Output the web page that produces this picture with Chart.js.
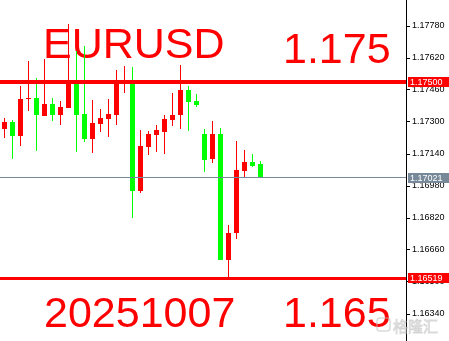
<!DOCTYPE html>
<html><head><meta charset="utf-8">
<script src="https://cdn.jsdelivr.net/npm/chart.js@4.4.1/dist/chart.umd.min.js"></script>
<style>html,body{margin:0;padding:0;background:#fff;overflow:hidden}
#wrap{position:relative;width:449px;height:341px}</style>
</head><body><div id="wrap"><canvas id="c" width="449" height="341"></canvas></div>
<script>
// ---- data ----
const candles = [0,1,2,3,4,5,6,7,8,9,10,11,12,13,14,15,16,17,18,19,20,21,22,23,24,25,26,27,28,29,30,31,32];
const opens  = [1.17265,1.1730,1.1723,1.17415,1.1742,1.1733,1.1739,1.17335,1.1737,1.17495,1.1734,1.17215,1.1729,1.17315,1.17335,1.17495,1.17495,1.16955,1.17175,1.17235,1.1725,1.1731,1.17335,1.1746,1.17405,1.1724,1.17115,1.1724,1.1661,1.16745,1.17055,1.171,1.1709];
const highs  = [1.1732,1.1731,1.1748,1.17605,1.1752,1.17615,1.1742,1.17405,1.1779,1.17655,1.1768,1.1741,1.17365,1.17415,1.1756,1.1758,1.17575,1.1726,1.17255,1.17285,1.17335,1.17445,1.17585,1.1748,1.1744,1.17265,1.17305,1.1727,1.16785,1.17205,1.1716,1.1714,1.17105];
const lows   = [1.1722,1.17115,1.1718,1.17355,1.17155,1.1733,1.17305,1.17285,1.1737,1.1715,1.172,1.17145,1.1725,1.17225,1.17285,1.17445,1.1682,1.16945,1.17135,1.1715,1.1714,1.1728,1.17265,1.17255,1.17375,1.1705,1.17095,1.1661,1.1652,1.16715,1.1702,1.17075,1.17021];
const closes = [1.1730,1.1723,1.17415,1.1742,1.17335,1.1739,1.17335,1.17375,1.175,1.17335,1.17215,1.17295,1.1732,1.1734,1.17495,1.175,1.16955,1.1718,1.1724,1.1726,1.17315,1.17335,1.1746,1.174,1.17385,1.1711,1.1724,1.1661,1.16745,1.1706,1.171,1.1708,1.17021];
const yTicks = [1.17780,1.17620,1.17460,1.17300,1.17140,1.16980,1.16820,1.16660,1.16500,1.16340];
const levels = [1.17500,1.16519];
const lastPrice = 1.17021;
const titleText = 'EURUSD', dateText = '20251007', upperText = '1.175', lowerText = '1.165';
const watermarkText = '格隆汇';

// ---- styles ----
const UP = '#ff0000', DOWN = '#00ff00', LEVEL = '#ff0000', LAST = '#778899';
const colors = candles.map(i => closes[i] >= opens[i] ? UP : DOWN);
const AREA_W = 406, SLOT = 8;
const xMin = -4.5 / SLOT;

const overlay = {
  id: 'overlay',
  beforeDatasetsDraw(chart) {
    const ctx = chart.ctx;
    ctx.save();
    ctx.fillStyle = '#ff0000';
    ctx.font = '43px "Liberation Sans", Arial, sans-serif';
    ctx.textBaseline = 'alphabetic';
    ctx.textAlign = 'left';
    ctx.fillText(titleText, 43, 58);
    ctx.fillText(upperText, 283, 63);
    ctx.fillText(dateText, 44, 327);
    ctx.fillText(lowerText, 283, 327);
    ctx.restore();
  },
  afterDatasetsDraw(chart) {
    const ctx = chart.ctx, y = chart.scales.y;
    ctx.save();
    const lp = Math.floor(y.getPixelForValue(lastPrice));
    ctx.fillStyle = LAST;
    ctx.fillRect(0, lp, AREA_W, 1);
    const widths = [4, 3];
    levels.forEach((v, k) => {
      const p = Math.round(y.getPixelForValue(v));
      ctx.fillStyle = LEVEL;
      ctx.fillRect(0, p - (k === 0 ? 2 : 1), AREA_W, widths[k]);
    });
    ctx.restore();
  },
  afterDraw(chart) {
    const ctx = chart.ctx, y = chart.scales.y;
    ctx.save();
    ctx.font = '9px "Liberation Sans", Arial, sans-serif';
    ctx.textBaseline = 'middle';
    const box = (v, col) => {
      const p = y.getPixelForValue(v);
      ctx.fillStyle = col;
      ctx.fillRect(408, Math.round(p) - 5, 41, 10);
      ctx.fillStyle = '#fff';
      ctx.fillText(v.toFixed(5), 410, Math.round(p) + 0.5);
    };
    box(levels[0], LEVEL);
    box(lastPrice, LAST);
    box(levels[1], LEVEL);
    // watermark
    ctx.globalAlpha = 0.55;
    ctx.strokeStyle = '#bbbbbb';
    ctx.lineWidth = 1.5;
    ctx.beginPath();
    ctx.roundRect(377, 318, 13, 13, 3);
    ctx.stroke();
    ctx.font = '15px "Noto Sans CJK SC", sans-serif';
    ctx.textBaseline = 'alphabetic';
    ctx.fillStyle = '#e2e2e2';
    ctx.fillText(watermarkText, 393, 332);
    ctx.lineWidth = 0.8;
    ctx.strokeText(watermarkText, 393, 332);
    ctx.restore();
  }
};

new Chart(document.getElementById('c'), {
  type: 'bar',
  data: {
    datasets: [
      {
        label: 'body',
        data: candles.map(i => ({ x: i, y: [opens[i], closes[i]] })),
        backgroundColor: colors,
        barThickness: 5,
        grouped: false,
        inflateAmount: 0,
        borderWidth: 0
      },
      {
        label: 'wick',
        data: candles.map(i => ({ x: i, y: [lows[i], highs[i]] })),
        backgroundColor: colors,
        barThickness: 1,
        grouped: false,
        inflateAmount: 0,
        borderWidth: 0
      }
    ]
  },
  options: {
    responsive: false,
    animation: false,
    devicePixelRatio: 1,
    layout: { padding: 0 },
    plugins: { legend: { display: false }, tooltip: { enabled: false } },
    events: [],
    scales: {
      x: {
        type: 'linear', display: false, offset: false,
        min: xMin, max: xMin + AREA_W / SLOT,
        grid: { offset: false }
      },
      y: {
        position: 'right',
        min: 1.16205, max: 1.1791,
        afterBuildTicks: s => { s.ticks = yTicks.map(v => ({ value: v })); },
        afterFit: s => { s.width = 43; s.paddingTop = 0; s.paddingBottom = 0; },
        grid: { drawOnChartArea: false, drawTicks: true, tickLength: 4, color: '#000' },
        border: { display: true, color: '#000', width: 1 },
        ticks: {
          padding: 2, color: '#000',
          font: { family: '"Liberation Sans", Arial, sans-serif', size: 9 },
          callback: v => Number(v).toFixed(5)
        }
      }
    }
  },
  plugins: [overlay]
});
</script></body></html>
